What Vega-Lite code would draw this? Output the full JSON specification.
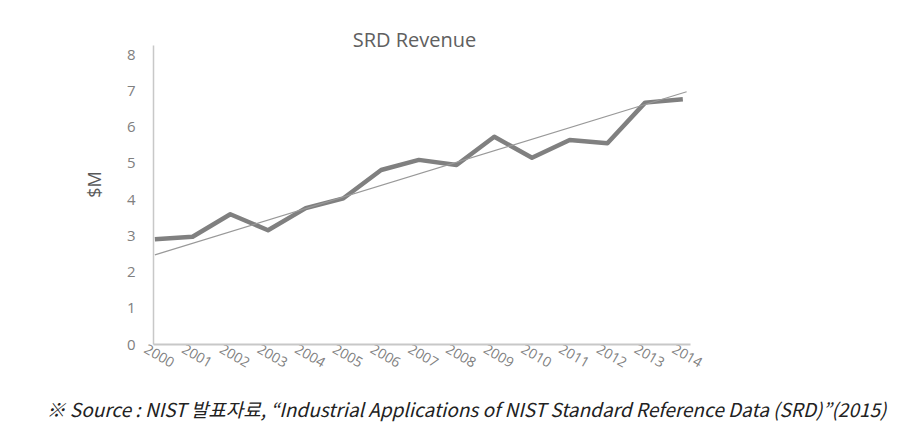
{
  "$schema": "https://vega.github.io/schema/vega-lite/v6.json",
  "autosize": "none",
  "width": 537,
  "height": 299,
  "padding": {"left": 153, "top": 45, "right": 217, "bottom": 82},
  "background": "white",
  "config": {"view": {"stroke": null}, "font": "Open Sans"},
  "title": {"text": "SRD Revenue", "fontSize": 20, "fontWeight": "normal", "color": "#606060", "font": "Open Sans", "anchor": "middle", "dx": -7, "offset": -6},
  "datasets": {
    "revenue": [
      {"year": 2000, "revenue": 2.89},
      {"year": 2001, "revenue": 2.96},
      {"year": 2002, "revenue": 3.58},
      {"year": 2003, "revenue": 3.14},
      {"year": 2004, "revenue": 3.75},
      {"year": 2005, "revenue": 4.02},
      {"year": 2006, "revenue": 4.80},
      {"year": 2007, "revenue": 5.08},
      {"year": 2008, "revenue": 4.94},
      {"year": 2009, "revenue": 5.72},
      {"year": 2010, "revenue": 5.14},
      {"year": 2011, "revenue": 5.63},
      {"year": 2012, "revenue": 5.54},
      {"year": 2013, "revenue": 6.66},
      {"year": 2014, "revenue": 6.75}
    ],
    "trend": [
      {"year": 2000, "revenue": 2.46},
      {"year": 2014.1, "revenue": 6.96}
    ]
  },
  "encoding": {
    "x": {
      "field": "year", "type": "quantitative",
      "scale": {"domain": [1999.95, 2014.19], "nice": false, "zero": false},
      "axis": {
        "values": [2000,2001,2002,2003,2004,2005,2006,2007,2008,2009,2010,2011,2012,2013,2014],
        "format": "d", "labelAngle": 30, "labelAlign": "center", "labelBaseline": "top",
        "labelOffset": 7, "labelPadding": 6, "labelFontSize": 14, "labelColor": "#808080",
        "labelOverlap": false, "labelFlush": false, "labelBound": false,
        "ticks": false, "grid": false, "domainColor": "#c8c8c8", "domainWidth": 2,
        "title": "※ Source : NIST 발표자료, “Industrial Applications of NIST Standard Reference Data (SRD)”(2015)",
        "titleFont": "Noto Sans CJK KR", "titleFontStyle": "italic", "titleFontWeight": "normal",
        "titleFontSize": 19, "titleColor": "#222222",
        "titleX": 313, "titleY": 66, "titleAlign": "center", "titleBaseline": "middle"
      }
    },
    "y": {
      "field": "revenue", "type": "quantitative",
      "scale": {"domain": [0, 8.25], "nice": false},
      "axis": {
        "values": [0,1,2,3,4,5,6,7,8],
        "labelOverlap": false, "labelFlush": false,
        "labelFontSize": 15, "labelColor": "#808080", "labelPadding": 18, "labelDy": 3,
        "ticks": false, "grid": false, "domainColor": "#c8c8c8", "domainWidth": 1.5,
        "title": "$M", "titleFontSize": 18, "titleFontWeight": "normal", "titleColor": "#595959",
        "titleX": -58, "titleY": 139, "titleAlign": "center", "titleBaseline": "middle", "titleAngle": -90
      }
    }
  },
  "layer": [
    {
      "data": {"name": "revenue"},
      "mark": {"type": "line", "color": "#808080", "strokeWidth": 4.5, "strokeJoin": "round"}
    },
    {
      "data": {"name": "trend"},
      "mark": {"type": "line", "color": "#999999", "strokeWidth": 1.2}
    }
  ]
}
